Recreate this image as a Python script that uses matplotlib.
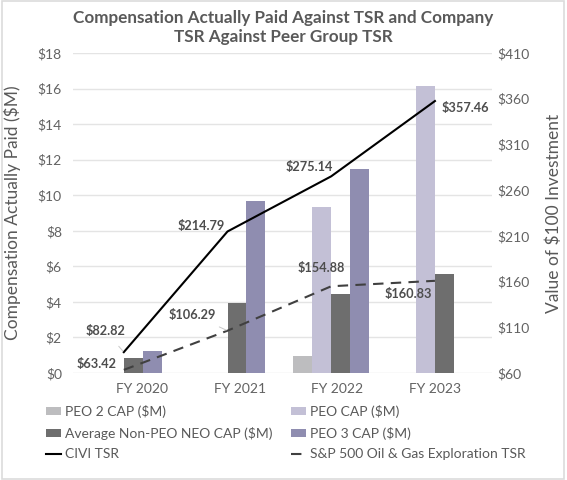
import numpy as np
import matplotlib
matplotlib.use("Agg")
from matplotlib import pyplot as plt
from matplotlib.patches import Rectangle

plt.rcParams['font.family'] = ['Lato', 'DejaVu Sans']

years = ['FY 2020', 'FY 2021', 'FY 2022', 'FY 2023']
peo2_cap = [0, 0, 0.98, 0]
peo_cap = [0, 0, 9.34, 16.12]
neo_cap = [0.83, 3.95, 4.46, 5.58]
peo3_cap = [1.24, 9.70, 11.45, 0]
civi_tsr = [82.82, 214.79, 275.14, 357.46]
peer_tsr = [63.42, 106.29, 154.88, 160.83]

gray_txt = '#595959'
fig = plt.figure(figsize=(5.67, 4.8), dpi=100)
fig.patches.append(Rectangle((0.003, 0.003), 0.992, 0.994, transform=fig.transFigure,
                             fill=False, edgecolor='#dcdcdc', lw=1.2))
ax = fig.add_axes([0.1287, 0.2229, 0.7390, 0.6667])
ax2 = ax.twinx()

x = np.arange(len(years))
w = 0.183
b1 = ax.bar(x - 1.5*w, peo2_cap, w, color='#bdbdbf', label='PEO 2 CAP ($M)')
b2 = ax.bar(x - 0.5*w, peo_cap, w, color='#c3c0d6', label='PEO CAP ($M)')
b3 = ax.bar(x + 0.5*w, neo_cap, w, color='#6e6e6e', label='Average Non-PEO NEO CAP ($M)')
b4 = ax.bar(x + 1.5*w, peo3_cap, w, color='#8f8db0', label='PEO 3 CAP ($M)')

l1, = ax2.plot(x, civi_tsr, color='black', lw=1.5, label='CIVI TSR')
l2, = ax2.plot(x, peer_tsr, color='#404040', lw=1.5, dashes=(5, 3.5),
               label='S&P 500 Oil & Gas Exploration TSR')

ax.set_xlim(-0.49, 3.55)
ax.set_ylim(0, 18)
ax.set_yticks(np.arange(0, 19, 2))
ax.set_yticklabels(['$%d' % v for v in range(0, 19, 2)])
ax2.set_ylim(60, 410)
ax2.set_yticks(np.arange(60, 411, 50))
ax2.set_yticklabels(['$%d' % v for v in range(60, 411, 50)])

# category labels sit a bit off the groups in the original
ax.set_xticks(0.18 + 0.94*x)
ax.set_xticklabels(years)

ax.grid(axis='y', color='#e4e4e4', lw=1)
ax.set_axisbelow(True)
for a in (ax, ax2):
    for s in a.spines.values():
        s.set_visible(False)
ax.tick_params(axis='both', length=0, colors='#626262', labelsize=10)
ax.tick_params(axis='x', pad=7)
ax.tick_params(axis='y', pad=8)
ax2.tick_params(axis='y', length=0, colors='#626262', labelsize=10, pad=4)

ax.set_ylabel('Compensation Actually Paid ($M)', color=gray_txt, fontsize=12.5)
ax.yaxis.set_label_coords(-0.125, 0.5)
ax2.set_ylabel('Value of $100 Investment', color=gray_txt, fontsize=12.5)
ax2.yaxis.set_label_coords(1.128, 0.5)

fig.text(0.5, 0.942, 'Compensation Actually Paid Against TSR and Company\nTSR Against Peer Group TSR',
         ha='center', va='center', fontsize=12.3, fontweight='bold', color=gray_txt,
         linespacing=1.25)

lbl = dict(textcoords='offset pixels', ha='center', va='center', fontsize=9.2,
           fontweight='bold', color='#4d4d4d')
lead = dict(arrowstyle='-', color='#c8c8c8', lw=0.7, shrinkA=6, shrinkB=1)
ax2.annotate('$%.2f' % civi_tsr[0], (x[0], civi_tsr[0]), xytext=(-18, 21), arrowprops=lead, **lbl)
ax2.annotate('$%.2f' % peer_tsr[0], (x[0], peer_tsr[0]), xytext=(-27, 6), **lbl)
ax2.annotate('$%.2f' % civi_tsr[1], (x[1], civi_tsr[1]), xytext=(-26, 5), **lbl)
ax2.annotate('$%.2f' % peer_tsr[1], (x[1], peer_tsr[1]), xytext=(-35, 16), arrowprops=lead, **lbl)
ax2.annotate('$%.2f' % civi_tsr[2], (x[2], civi_tsr[2]), xytext=(-22, 9), **lbl)
ax2.annotate('$%.2f' % peer_tsr[2], (x[2], peer_tsr[2]), xytext=(-10, 18), arrowprops=lead, **lbl)
ax2.annotate('$%.2f' % civi_tsr[3], (x[3], civi_tsr[3]), xytext=(30, -7), **lbl)
ax2.annotate('$%.2f' % peer_tsr[3], (x[3], peer_tsr[3]), xytext=(-27, -13), **lbl)

handles = [b1, b3, l1, b2, b4, l2]
leg = fig.legend(handles, [h.get_label() for h in handles], ncol=2, loc='upper left',
                 bbox_to_anchor=(0.081, 0.156), frameon=False, fontsize=10,
                 handlelength=1.1, handleheight=0.45, handletextpad=0.3,
                 columnspacing=1.3, labelspacing=0.62, borderaxespad=0, borderpad=0)
for t in leg.get_texts():
    t.set_color(gray_txt)

fig.savefig('out.png', dpi=100)
